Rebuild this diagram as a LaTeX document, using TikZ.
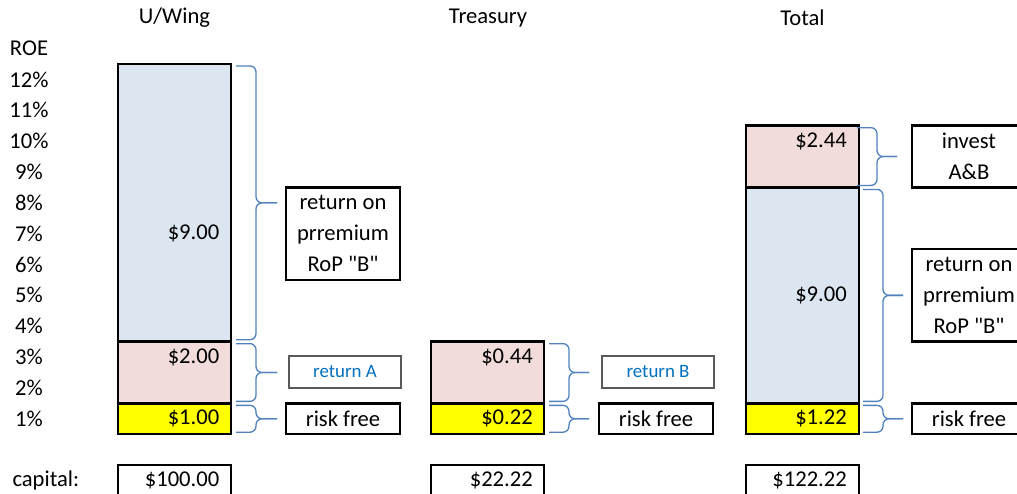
\documentclass[tikz,border=0pt]{standalone}
\usepackage{fontspec}
\setmainfont{Carlito}
\usetikzlibrary{
  calc,
  positioning,
}
\definecolor{premblue}{RGB}{220, 230, 241}
\definecolor{invpink}{RGB}{242, 220, 219}
\definecolor{rfyellow}{RGB}{255, 255, 0}
\definecolor{bracecol}{RGB}{79, 129, 189}
\definecolor{labelblue}{RGB}{0, 112, 192}
\newcommand{\rowh}{30.85pt}
\tikzstyle{curly} = [
  bracecol,
  line width=1.3pt,
  rounded corners=6pt,
]
% brace on the right of a bar segment: node, spine offset, tip offset
\newcommand{\segbrace}[3]{%
  \draw[curly] ([xshift=#2pt-20pt, yshift=-2pt]#1.north east)
    -| ([xshift=#2pt]#1.east) -- ([xshift=#3pt]#1.east);
  \draw[curly] ([xshift=#2pt-20pt, yshift=2pt]#1.south east)
    -| ([xshift=#2pt]#1.east) -- ([xshift=#3pt]#1.east);
}

\begin{document}
\begin{tikzpicture}[x=1pt, y=-\rowh,
    font=\fontsize{22.6pt}{30.85pt}\selectfont,
    seg/.style={draw, line width=2.5pt, minimum width=113pt,
                inner sep=0, outer sep=0, anchor=north west},
    lbl/.style={draw, line width=2.5pt, minimum width=114pt,
                inner sep=0, outer sep=0, anchor=north west, align=center},
    note/.style={draw=black!65, line width=1.5pt, minimum width=112pt,
                 minimum height=32pt, inner sep=0, text=labelblue,
                 font=\fontsize{18.9pt}{22pt}\selectfont},
    val/.style={inner sep=0, anchor=east}]
  \useasboundingbox (0,-2.0746) rectangle (1017,13.906);

  % row labels
  \node (roe) at (29,-0.5) {ROE};
  \foreach \p [count=\i] in {12,11,...,1}
    \node (roe\p) at (29,\i-0.5) {\p\%};
  \node [anchor=west] (cap) at (9,13.5) {capital:};

  % U/Wing
  \node (uw) at (174.5,-1.5) {U/Wing};
  \node [seg, fill=premblue, minimum height=9*\rowh] (uw-prem) at (118,0) {};
  \node [seg, fill=invpink, minimum height=2*\rowh, below=0pt of uw-prem]
        (uw-retA) {};
  \node [seg, fill=rfyellow, minimum height=\rowh, below=0pt of uw-retA]
        (uw-rf) {};
  \node [seg, minimum height=\rowh] (uw-cap) at (118,13) {};
  \node [val] (uw-v1) at (219.5,5.5) {\$9.00};
  \node [val] (uw-v2) at (219.5,9.5) {\$2.00};
  \node [val] (uw-v3) at (219.5,11.5) {\$1.00};
  \node [val] (uw-v4) at (219.5,13.5) {\$100.00};
  \node [lbl, minimum height=3*\rowh] (uw-rop) at (286,4)
        {return on\\prremium\\RoP \textquotedbl B\textquotedbl};
  \node [note] (uw-a) at (345,9.98) {return A};
  \node [lbl, minimum height=\rowh] (uw-rfl) at (286,11) {risk free};
  \segbrace{uw-prem}{25}{46}
  \segbrace{uw-retA}{25}{46}
  \segbrace{uw-rf}{25}{46}

  % Treasury
  \node (tr) at (488,-1.5) {Treasury};
  \node [seg, fill=invpink, minimum height=2*\rowh] (tr-retB) at (431,9) {};
  \node [seg, fill=rfyellow, minimum height=\rowh, below=0pt of tr-retB]
        (tr-rf) {};
  \node [seg, minimum height=\rowh] (tr-cap) at (431,13) {};
  \node [val] (tr-v1) at (533,9.5) {\$0.44};
  \node [val] (tr-v2) at (533,11.5) {\$0.22};
  \node [val] (tr-v3) at (533,13.5) {\$22.22};
  \node [note] (tr-b) at (658,9.98) {return B};
  \node [lbl, minimum height=\rowh] (tr-rfl) at (599,11) {risk free};
  \segbrace{tr-retB}{25}{45}
  \segbrace{tr-rf}{25}{45}

  % Total
  \node (tot) at (802.5,-1.5) {Total};
  \node [seg, fill=invpink, minimum height=2*\rowh] (tot-inv) at (746,2) {};
  \node [seg, fill=premblue, minimum height=7*\rowh, below=0pt of tot-inv]
        (tot-prem) {};
  \node [seg, fill=rfyellow, minimum height=\rowh, below=0pt of tot-prem]
        (tot-rf) {};
  \node [seg, minimum height=\rowh] (tot-cap) at (746,13) {};
  \node [val] (tot-v1) at (847,2.5) {\$2.44};
  \node [val] (tot-v2) at (847,7.5) {\$9.00};
  \node [val] (tot-v3) at (847,11.5) {\$1.22};
  \node [val] (tot-v4) at (847,13.5) {\$122.22};
  \node [lbl, minimum height=2*\rowh] (tot-ab) at (912,2) {invest\\A\&B};
  \node [lbl, minimum height=3*\rowh] (tot-rop) at (912,6)
        {return on\\prremium\\RoP \textquotedbl B\textquotedbl};
  \node [lbl, minimum height=\rowh] (tot-rfl) at (912,11) {risk free};
  \segbrace{tot-inv}{18}{38}
  \segbrace{tot-prem}{24}{44}
  \segbrace{tot-rf}{24}{44}
\end{tikzpicture}
\end{document}
